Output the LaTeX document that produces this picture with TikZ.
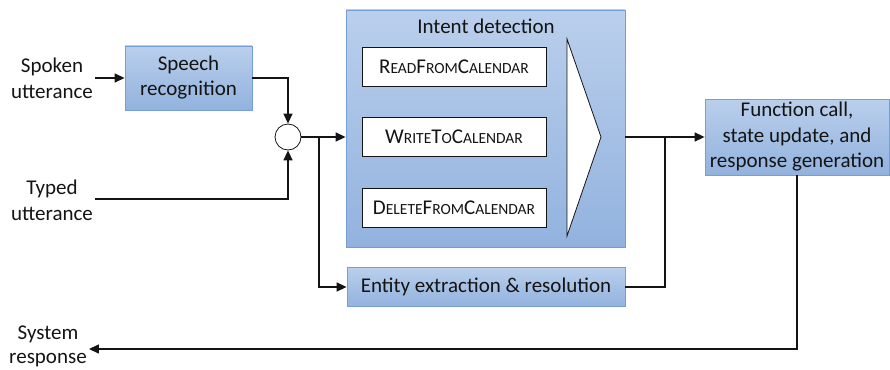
\documentclass[tikz,border=0pt]{standalone}
\usepackage{fontspec}
\setmainfont{Carlito}
\usepackage{tikz}
\usetikzlibrary{positioning,arrows.meta,shapes.geometric,calc}

\definecolor{boxtop}{RGB}{186,207,236}
\definecolor{boxbot}{RGB}{146,178,222}
\definecolor{boxline}{RGB}{118,158,214}
\definecolor{ink}{RGB}{20,20,20}

\newcommand{\sml}[1]{{\fontsize{15.5}{16}\selectfont #1}}

\tikzset{
  blk/.style={draw=boxline, line width=0.8pt, top color=boxtop, bottom color=boxbot,
    align=center, font=\fontsize{21}{25}\selectfont, text=ink, inner sep=0pt},
  cls/.style={draw=ink, line width=0.8pt, fill=white, minimum width=184, minimum height=39,
    font=\fontsize{21}{22}\selectfont, text=ink, inner sep=0pt},
  lbl/.style={align=center, font=\fontsize{21}{26}\selectfont, text=ink, inner sep=2pt},
  arr/.style={-{Triangle[length=10pt,width=9pt]}, line width=1.4pt, draw=ink},
  ln/.style={line width=1.4pt, draw=ink}
}

\begin{document}
\begin{tikzpicture}[x=1pt,y=-1pt]
  \useasboundingbox (0,0) rectangle (890,369);
  % inputs
  \node[lbl] (spk) at (52,78) {Spoken\\utterance};
  \node[lbl] (typ) at (52,200) {Typed\\utterance};
  \node[blk, minimum width=127, minimum height=64] (asr) at (188.5,78) {Speech\\recognition};
  \node[circle, draw=ink, line width=0.8pt, fill=white, minimum size=26, inner sep=0pt] (sum) at (288,137) {};
  % intent detection
  \node[blk, minimum width=279, minimum height=237] (intent) at (485.5,128.5) {};
  \node[lbl] (title) at (486,26) {Intent detection};
  \node[cls] (rd) at (454,66.5) {R\sml{EAD}F\sml{ROM}C\sml{ALENDAR}};
  \node[cls] (wr) at (454,137) {W\sml{RITE}T\sml{O}C\sml{ALENDAR}};
  \node[cls] (dl) at (454,208) {D\sml{ELETE}F\sml{ROM}C\sml{ALENDAR}};
  \draw[draw=ink, line width=0.8pt, fill=white] (567,39) -- (601,137) -- (567,236) -- cycle;
  % entity and function call
  \node[blk, minimum width=278, minimum height=39] (ent) at (486,287) {Entity extraction \& resolution};
  \node[blk, minimum width=184, minimum height=76, font=\fontsize{21}{25.5}\selectfont] (fn) at (797,137)
    {Function call,\\state update, and\\response generation};
  \node[lbl, font=\fontsize{21}{24}\selectfont] (sys) at (48,346) {System\\response};
  \coordinate (split) at (319,137);
  \coordinate (join) at (665,137);
  % connectors
  \draw[arr] (spk.east) -- (asr.west);
  \draw[arr] (asr.east) -| (sum.north);
  \draw[arr] (typ.east |- 0,199) -| (sum.south);
  \draw[arr] (sum.east) -- (sum.east -| intent.west);
  \draw[arr] (split) |- (ent.west);
  \draw[arr] (sum -| intent.east) -- (fn.west);
  \draw[ln] (ent.east) -| (join);
  \draw[arr] (fn.south) |- (sys.east |- 0,349);
\end{tikzpicture}
\end{document}
